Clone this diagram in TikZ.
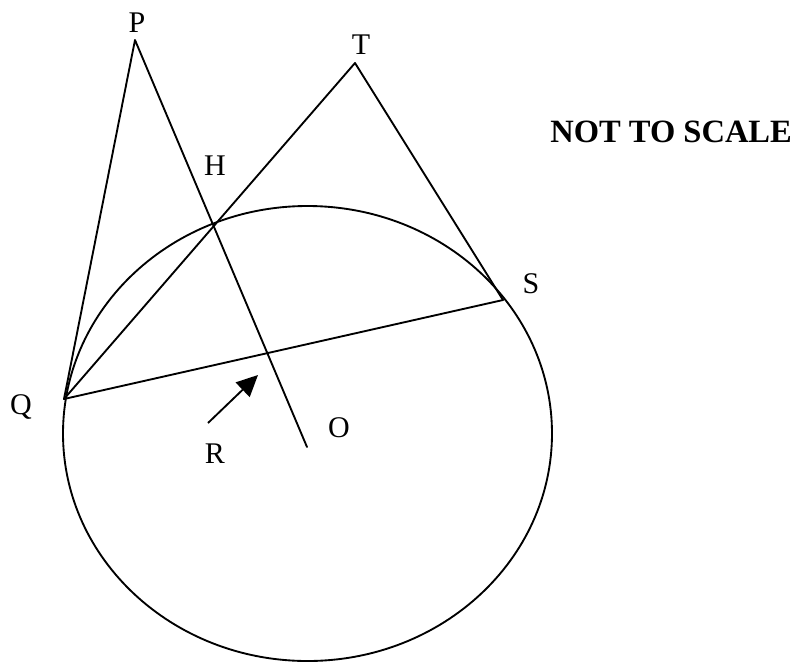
\documentclass[tikz,border=0pt]{standalone}
\usepackage{fontspec}
\setmainfont{Liberation Serif}
\usetikzlibrary{arrows.meta}
\begin{document}
\begin{tikzpicture}[x=0.75pt,y=-0.75pt,
  geo/.style={line width=1.4pt, line join=round, line cap=round},
  lbl/.style={anchor=base, inner sep=0pt, font=\fontsize{22.5}{26}\selectfont},
  note/.style={anchor=base west, inner sep=0pt, font=\fontsize{24.4}{28}\selectfont\bfseries}]
\useasboundingbox (0,0) rectangle (801,662);
% points
\coordinate (P) at (135,40);
\coordinate (T) at (355,63);
\coordinate (H) at (213,225);
\coordinate (Q) at (64,399);
\coordinate (S) at (503,300);
\coordinate (O) at (307,447);
\coordinate (C) at (307.5,433.5);
\coordinate (Ra) at (208,423);
\coordinate (Rb) at (258,375);
% circle
\draw[geo] (C) ellipse [x radius=244.5, y radius=227.5];
% lines
\draw[geo] (Q) -- (P) -- (O);
\draw[geo] (Q) -- (T) -- (S);
\draw[geo] (Q) -- (S);
\draw[line width=1.4pt, -{Triangle[length=16pt,width=15pt]}] (Ra) -- (Rb);
% labels
\node[lbl] (lP) at (137,32) {P};
\node[lbl] (lT) at (361,54) {T};
\node[lbl] (lH) at (215,175) {H};
\node[lbl] (lS) at (531,293) {S};
\node[lbl] (lQ) at (21,414) {Q};
\node[lbl] (lR) at (215,463) {R};
\node[lbl] (lO) at (339,437) {O};
\node[note] (nts) at (550,142) {NOT TO SCALE};
\end{tikzpicture}
\end{document}
